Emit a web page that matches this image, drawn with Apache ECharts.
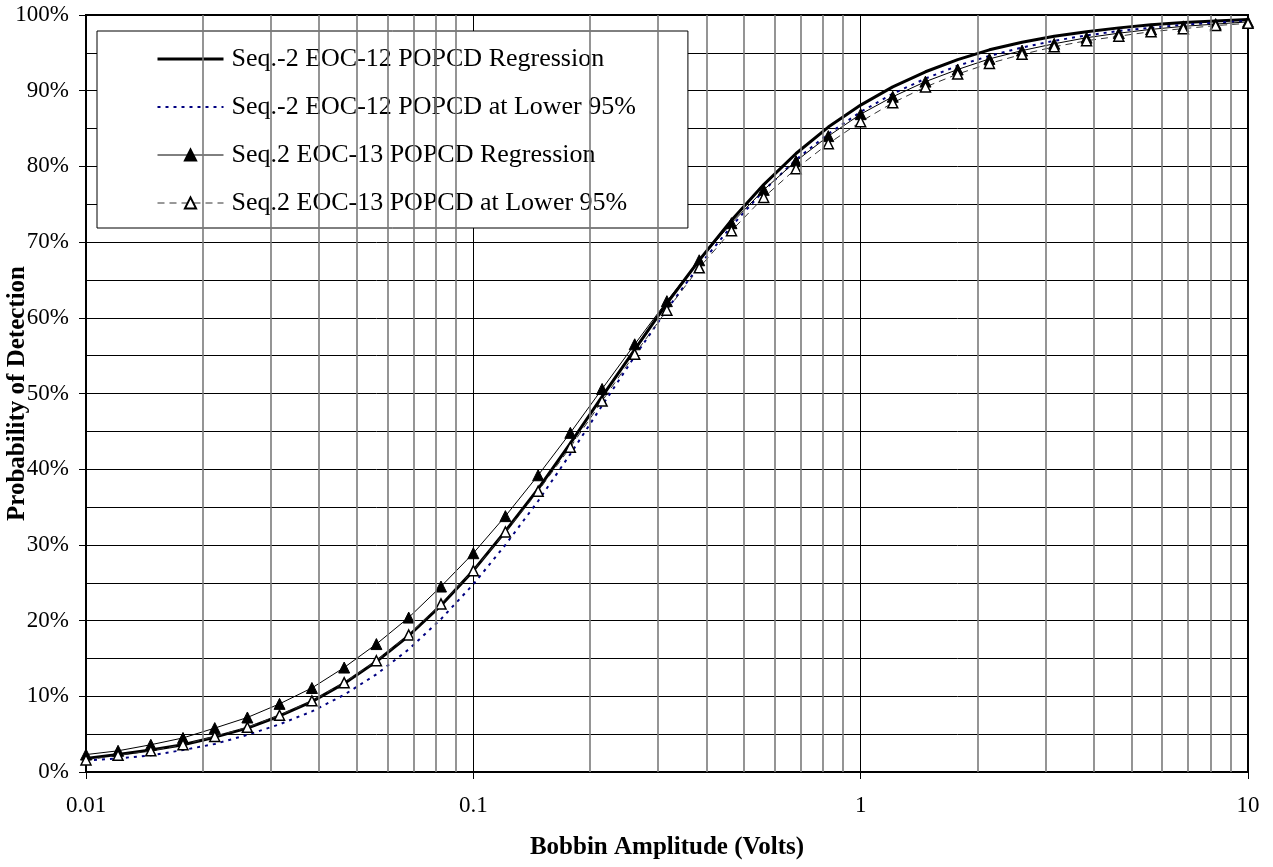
<!DOCTYPE html>
<html>
<head>
<meta charset="utf-8">
<script src="https://cdn.jsdelivr.net/npm/echarts@6/dist/echarts.min.js"></script>
<style>
  html, body { margin: 0; padding: 0; background: #fff; }
  #main { width: 1273px; height: 867px; }
</style>
</head>
<body>
<div id="main"></div>
<script>
// amplitude points (volts), 12 per decade
const amplitudes = [
  0.01, 0.0121, 0.0147, 0.0178, 0.0215, 0.0261, 0.0316, 0.0383, 0.0464, 0.0562, 0.0681, 0.0825,
  0.1, 0.121, 0.147, 0.178, 0.215, 0.261, 0.316, 0.383, 0.464, 0.562, 0.681, 0.825,
  1, 1.21, 1.47, 1.78, 2.15, 2.61, 3.16, 3.83, 4.64, 5.62, 6.81, 8.25, 10
];
// probability values in %
const eoc12Reg = [
  1.8, 2.3, 2.9, 3.6, 4.6, 5.8, 7.4, 9.3, 11.7, 14.6, 18.0, 22.0,
  26.6, 31.8, 37.4, 43.4, 49.6, 55.8, 61.9, 67.6, 72.9, 77.6, 81.7, 85.2,
  88.1, 90.5, 92.5, 94.1, 95.4, 96.4, 97.2, 97.8, 98.3, 98.7, 99.0, 99.2, 99.4
];
const eoc12Low = [
  1.5, 1.8, 2.2, 2.9, 3.7, 4.9, 6.3, 8.0, 10.2, 12.9, 16.2, 20.2,
  24.8, 30.0, 35.8, 42.0, 48.4, 54.9, 61.1, 66.9, 72.1, 76.8, 80.9, 84.3,
  87.2, 89.6, 91.6, 93.3, 94.6, 95.7, 96.6, 97.3, 97.9, 98.3, 98.7, 99.0, 99.2
];
const eoc13Reg = [
  2.3, 2.8, 3.6, 4.5, 5.8, 7.2, 9.0, 11.1, 13.8, 16.9, 20.4, 24.5,
  28.9, 33.8, 39.2, 44.8, 50.6, 56.5, 62.2, 67.6, 72.5, 76.9, 80.7, 84.0,
  86.9, 89.2, 91.2, 92.8, 94.2, 95.3, 96.2, 97.0, 97.6, 98.1, 98.5, 98.8, 99.1
];
const eoc13Low = [
  1.6, 2.2, 2.8, 3.6, 4.7, 5.9, 7.5, 9.4, 11.8, 14.7, 18.1, 22.2,
  26.6, 31.7, 37.1, 42.9, 49.0, 55.2, 61.0, 66.6, 71.5, 75.9, 79.7, 83.0,
  85.9, 88.4, 90.5, 92.2, 93.6, 94.8, 95.8, 96.6, 97.2, 97.8, 98.2, 98.6, 98.9
];
const seriesNames = [
  'Seq.-2 EOC-12 POPCD Regression',
  'Seq.-2 EOC-12 POPCD at Lower 95%',
  'Seq.2 EOC-13 POPCD Regression',
  'Seq.2 EOC-13 POPCD at Lower 95%'
];
// minor vertical grid positions (2..9 in each decade)
const minorGridX = [
  0.02, 0.03, 0.04, 0.05, 0.06, 0.07, 0.08, 0.09,
  0.2, 0.3, 0.4, 0.5, 0.6, 0.7, 0.8, 0.9,
  2, 3, 4, 5, 6, 7, 8, 9
];

const pairs = (ys) => amplitudes.map((x, i) => [x, ys[i] / 100]);
const font = '"Liberation Serif", "Times New Roman", serif';

const chart = echarts.init(document.getElementById('main'));
chart.setOption({
  animation: false,
  backgroundColor: '#fff',
  textStyle: { fontFamily: font, color: '#000' },
  grid: {
    left: 86, right: 25, top: 15, bottom: 95,
    containLabel: false, outerBoundsMode: 'none',
    show: true, borderColor: '#000', borderWidth: 2
  },
  legend: {
    orient: 'vertical',
    left: 97, top: 31,
    padding: [14, 52, 11, 59],
    itemGap: 20,
    itemWidth: 66, itemHeight: 14,
    backgroundColor: '#fff',
    borderColor: '#000', borderWidth: 1, borderRadius: 0,
    textStyle: { fontFamily: font, fontSize: 26, lineHeight: 28, color: '#000', padding: [0, 0, 0, 3] },
    data: [
      { name: seriesNames[0], itemStyle: { opacity: 0 }, lineStyle: { width: 3 } },
      { name: seriesNames[1], itemStyle: { opacity: 0 }, lineStyle: { width: 2 } },
      { name: seriesNames[2], lineStyle: { width: 1 } },
      { name: seriesNames[3], lineStyle: { width: 1 } }
    ]
  },
  xAxis: {
    type: 'log', logBase: 10, min: 0.01, max: 10,
    name: 'Bobbin Amplitude (Volts)',
    nameLocation: 'middle', nameGap: 63, nameMoveOverlap: false,
    nameTextStyle: { fontFamily: font, fontSize: 25, fontWeight: 'bold', color: '#000' },
    axisLine: { onZero: false, lineStyle: { color: '#000', width: 2 } },
    axisTick: { show: true, length: 7, lineStyle: { color: '#000', width: 1 } },
    axisLabel: { fontFamily: font, fontSize: 23, color: '#000', margin: 22,
      formatter: (v) => String(v) },
    splitLine: { show: true, lineStyle: { color: '#000', width: 1 } },
    minorTick: { show: false },
    minorSplitLine: { show: false }
  },
  yAxis: {
    type: 'value', min: 0, max: 1, interval: 0.1,
    name: 'Probability of Detection',
    nameLocation: 'middle', nameGap: 56, nameMoveOverlap: false,
    nameTextStyle: { fontFamily: font, fontSize: 25, fontWeight: 'bold', color: '#000' },
    axisLine: { show: true, lineStyle: { color: '#000', width: 2 } },
    axisTick: { show: true, length: 7, lineStyle: { color: '#000', width: 1 } },
    axisLabel: { fontFamily: font, fontSize: 23, color: '#000', margin: 17,
      formatter: (v) => Math.round(v * 100) + '%' },
    splitLine: { show: true, lineStyle: { color: '#000', width: 1 } },
    minorTick: { show: false, splitNumber: 2 },
    minorSplitLine: { show: true, lineStyle: { color: '#000', width: 1 } }
  },
  series: [
    {
      name: 'minor-grid', type: 'line', data: [], silent: true, z: 1,
      markLine: {
        silent: true, symbol: ['none', 'none'], label: { show: false },
        animation: false,
        lineStyle: { color: '#7a7a7a', width: 1.6, type: 'solid' },
        data: minorGridX.map((x) => ({ xAxis: x }))
      }
    },
    {
      name: seriesNames[0], type: 'line', data: pairs(eoc12Reg),
      showSymbol: false, symbol: 'none', z: 3,
      lineStyle: { color: '#000', width: 3 },
      itemStyle: { color: '#000' }
    },
    {
      name: seriesNames[1], type: 'line', data: pairs(eoc12Low),
      showSymbol: false, symbol: 'none', z: 3,
      lineStyle: { color: '#000080', width: 2, type: [3, 5] },
      itemStyle: { color: '#000080' }
    },
    {
      name: seriesNames[2], type: 'line', data: pairs(eoc13Reg),
      symbol: 'triangle', symbolSize: 11, showAllSymbol: true, z: 4,
      lineStyle: { color: '#000', width: 1 },
      itemStyle: { color: '#000', borderColor: '#000', borderWidth: 1 }
    },
    {
      name: seriesNames[3], type: 'line', data: pairs(eoc13Low),
      symbol: 'triangle', symbolSize: 10, showAllSymbol: true, z: 4,
      lineStyle: { color: '#333', width: 1, type: [7, 5] },
      itemStyle: { color: '#fff', borderColor: '#000', borderWidth: 1.5 }
    }
  ]
});
</script>
</body>
</html>
